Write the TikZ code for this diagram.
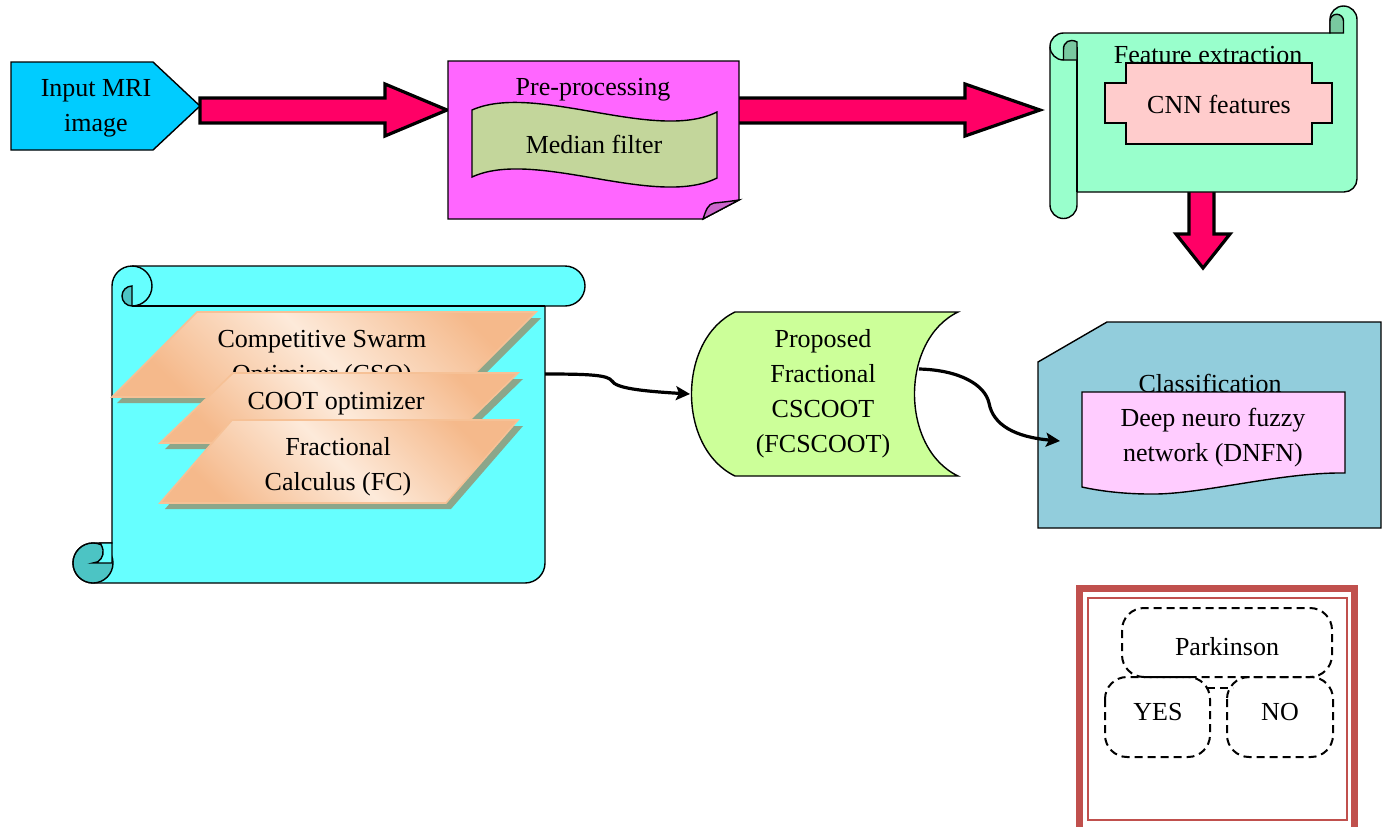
\documentclass[tikz,border=0pt]{standalone}
\usepackage{fontspec}
\setmainfont{Liberation Serif}
\usetikzlibrary{arrows.meta}
\definecolor{inblue}{HTML}{00CCFF}
\definecolor{arred}{HTML}{FF0066}
\definecolor{magbox}{HTML}{FF66FF}
\definecolor{foldc}{HTML}{CC66CC}
\definecolor{medgreen}{HTML}{C3D69B}
\definecolor{featgreen}{HTML}{99FFCC}
\definecolor{featdark}{HTML}{79C9A0}
\definecolor{cnnpink}{HTML}{FFCCCC}
\definecolor{scrcyan}{HTML}{66FFFF}
\definecolor{scrdark}{HTML}{4CC4C4}
\definecolor{orlight}{HTML}{FDEADA}
\definecolor{ordark}{HTML}{F5B98B}
\definecolor{orline}{HTML}{F6C196}
\definecolor{shadowc}{HTML}{8CA68A}
\definecolor{fcgreen}{HTML}{CCFF99}
\definecolor{clblue}{HTML}{92CDDC}
\definecolor{dnpink}{HTML}{FFCCFF}
\definecolor{framered}{HTML}{C0504D}
\begin{document}
\begin{tikzpicture}[x=0.5pt,y=-0.5pt,
  txt/.style={font=\fontsize{13}{17.5}\selectfont, align=center, inner sep=0pt},
  shp/.style={draw=black, line width=0.7pt},
  blockarrow/.style={draw=black, line width=1.6pt, fill=arred, line join=miter},
  conn/.style={draw=black, line width=1.6pt, -{Stealth[length=7pt,width=7pt,inset=1.5pt]}},
  para/.style={draw=orline, line width=0.8pt, top color=ordark, bottom color=ordark, middle color=orlight, shading angle=-45},
  dbox/.style={draw=black, line width=1pt, dash pattern=on 4pt off 2.5pt, rounded corners=11pt}]
\clip (0,0) rectangle (1388,826);
\fill[white] (0,0) rectangle (1388,826);

% block arrows
\draw[blockarrow] (200,98) -- (385,98) -- (385,84) -- (447,110) -- (385,136) -- (385,123) -- (200,123) -- cycle;
\draw[blockarrow] (735,98) -- (965,98) -- (965,84) -- (1040,110) -- (965,136) -- (965,123) -- (735,123) -- cycle;
\draw[blockarrow] (1189,186) -- (1189,234) -- (1176,234) -- (1203,268) -- (1230,234) -- (1214,234) -- (1214,186) -- cycle;

% input
\filldraw[shp, fill=inblue] (11,62) -- (153,62) -- (200,106) -- (153,150) -- (11,150) -- cycle;
\node[txt] (input) at (96,108) {Input MRI\\image};

% pre-processing
\filldraw[shp, fill=magbox] (448,61) -- (739,61) -- (739,200) -- (703,219) -- (448,219) -- cycle;
\filldraw[shp, fill=foldc] (703,219) .. controls (706,210) and (708,204) .. (714,203) .. controls (725,202) and (732,201) .. (739,200) -- cycle;
\node[txt] (pre) at (593,90) {Pre-processing};
\filldraw[shp, fill=medgreen] (472,110) .. controls (535,82) and (655,143) .. (717,112) -- (717,178) .. controls (655,209) and (535,148) .. (472,177) -- cycle;
\node[txt] (median) at (594,144) {Median filter};

% feature extraction scroll
\filldraw[shp, fill=featgreen] (1050,46.5) -- (1050,205) arc[start angle=180,end angle=0,radius=13.5] -- (1077,192) -- (1344,192) arc[start angle=90,end angle=0,radius=13] -- (1357,19.5) arc[start angle=0,end angle=-180,radius=13.5] -- (1330,33) -- (1063.5,33) arc[start angle=-90,end angle=-180,radius=13.5] -- cycle;
\draw[shp] (1077,46.5) -- (1077,192);
\filldraw[shp, fill=featdark] (1063.5,60) -- (1077,60) -- (1077,42) .. controls (1070,38) and (1063,42) .. (1063.5,50) -- cycle;
\draw[shp] (1050,46.5) arc[start angle=180,end angle=90,radius=13.5];
\filldraw[shp, fill=featdark] (1330,19.5) -- (1330,33) -- (1343.5,33) -- (1343.5,21) arc[start angle=0,end angle=-180,radius=6.75] -- cycle;
\node[txt] (feat) at (1208,55) {Feature extraction};
\filldraw[shp, fill=cnnpink] (1126,63) -- (1312,63) -- (1312,83) -- (1332,83) -- (1332,123) -- (1312,123) -- (1312,144) -- (1126,144) -- (1126,123) -- (1105,123) -- (1105,83) -- (1126,83) -- cycle;
\node[txt] (cnn) at (1219,104) {CNN features};

% cyan horizontal scroll
\filldraw[shp, fill=scrcyan] (112,286) arc[start angle=180,end angle=270,radius=20] -- (565,266) arc[start angle=270,end angle=450,radius=20] -- (545,306) -- (545,563) arc[start angle=0,end angle=90,radius=20] -- (93,583) arc[start angle=90,end angle=270,radius=20] -- (112,543) -- cycle;
\draw[shp] (132,306) -- (545,306);
\draw[shp] (132,266) arc[start angle=270,end angle=450,radius=20];
\filldraw[shp, fill=scrdark] (132,286) arc[start angle=270,end angle=90,radius=10] -- cycle;
\filldraw[shp, fill=scrdark] (93,563) circle[radius=20];
\filldraw[shp, fill=scrcyan] (112,543) -- (112,563) -- (93,563) .. controls (100,563) and (104,556) .. (103,550) .. controls (102,546) and (101,544) .. (100,543) -- cycle;
\coordinate (cso-out) at (545,374);

% parallelograms
\fill[shadowc] (202,318) -- (541,318) -- (456,403) -- (117,403) -- cycle;
\path[para] (197,312) -- (536,312) -- (451,397) -- (112,397) -- cycle;
\node[txt] (cso) at (322,359) {Competitive Swarm\\Optimizer (CSO)};
\fill[shadowc] (238,379) -- (523,379) -- (451,449) -- (165,449) -- cycle;
\path[para] (233,373) -- (518,373) -- (446,443) -- (160,443) -- cycle;
\node[txt] (coot) at (336,404) {COOT optimizer};
\fill[shadowc] (237,426) -- (523,426) -- (451,509) -- (165,509) -- cycle;
\path[para] (232,420) -- (518,420) -- (446,503) -- (160,503) -- cycle;
\node[txt] (fcalc) at (338,467) {Fractional\\Calculus (FC)};

% FCSCOOT
\filldraw[shp, fill=fcgreen] (735,312) -- (958,312) .. controls (900,340) and (900,448) .. (958,476) -- (735,476) .. controls (677,448) and (677,340) .. cycle;
\node[txt] (fcs) at (823,394) {Proposed\\Fractional\\CSCOOT\\(FCSCOOT)};
\coordinate (fc-in) at (690,394);
\coordinate (fc-out) at (919,369);

% classification
\filldraw[shp, fill=clblue] (1107,322) -- (1381,322) -- (1381,528) -- (1038,528) -- (1038,362) -- cycle;
\node[txt] (cls) at (1210,383) {Classification};
\filldraw[shp, fill=dnpink] (1082,392) -- (1345,392) -- (1345,473) .. controls (1280,472) and (1200,495) .. (1150,494) .. controls (1120,494) and (1095,490) .. (1082,487) -- cycle;
\node[txt] (dnfn) at (1213,438) {Deep neuro fuzzy\\network (DNFN)};
\coordinate (cl-in) at (1060,441);

% connectors
\draw[conn] (cso-out) .. controls (590,374) and (608,375) .. (612,381) .. controls (616,388) and (640,391) .. (fc-in);
\draw[conn] (fc-out) .. controls (960,370) and (985,385) .. (989,403) .. controls (993,425) and (1015,437) .. (cl-in);

% Parkinson frame
\draw[framered, line width=3.5pt] (1079.5,588.5) rectangle (1354.5,850);
\draw[framered, line width=0.75pt] (1088,598) rectangle (1347,820);
\draw[dbox] (1122,608) rectangle (1332,677);
\draw[dbox] (1105,677) rectangle (1210,757);
\draw[dbox] (1227,677) rectangle (1333,757);
\draw[draw=black, line width=1pt, dash pattern=on 4pt off 2.5pt] (1207,688) -- (1233,688);
\node[txt] (park) at (1227,647) {Parkinson};
\node[txt] (yes) at (1158,712) {YES};
\node[txt] (no) at (1280,712) {NO};
\end{tikzpicture}
\end{document}
